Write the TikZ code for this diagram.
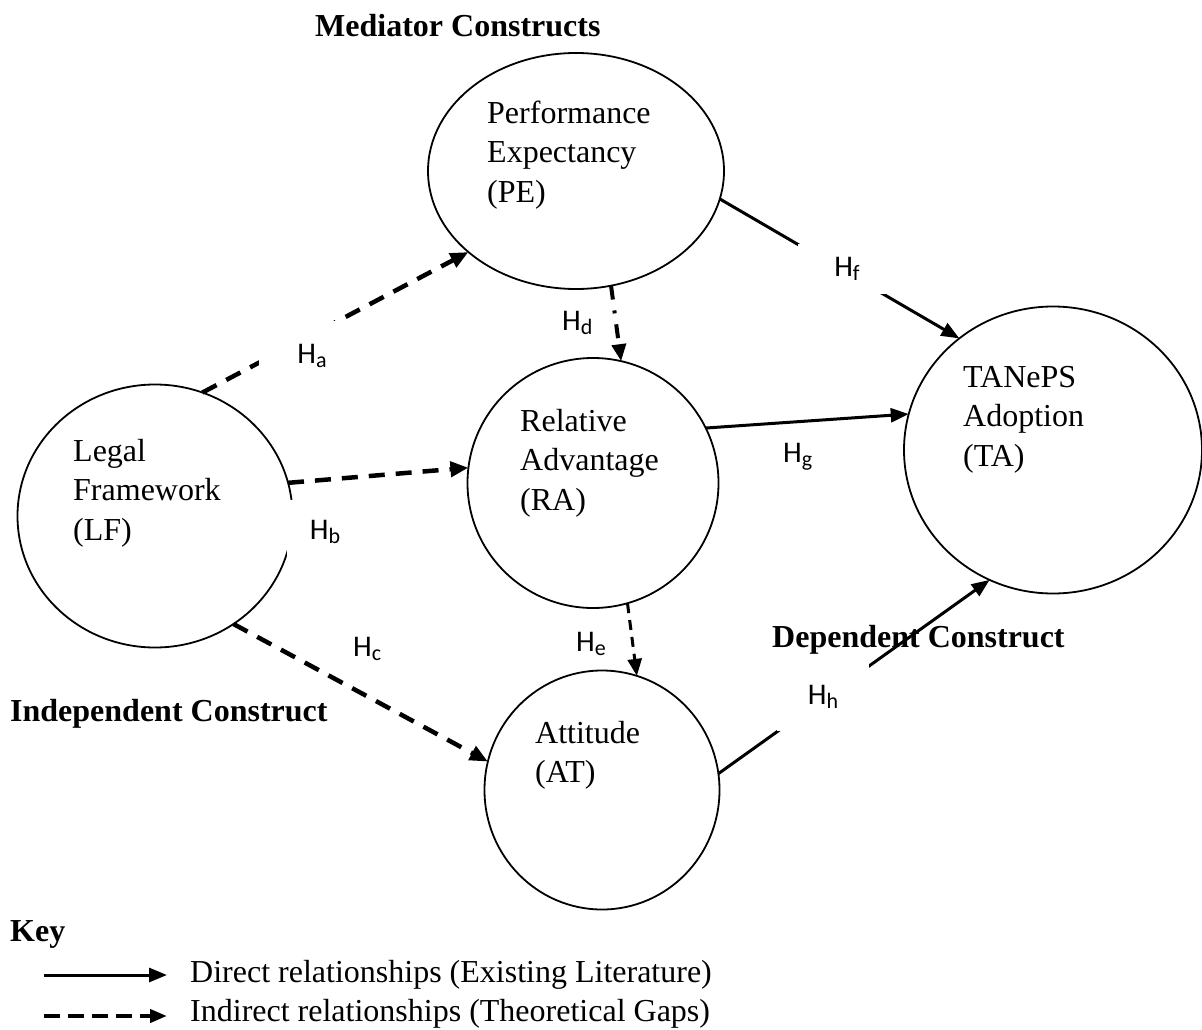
\documentclass[tikz,border=0pt]{standalone}
\usepackage{fontspec}
\setmainfont{Liberation Serif}
\newfontfamily\hfont{Carlito}
\usetikzlibrary{shapes.geometric,arrows.meta}
\newcommand{\hlab}[1]{H\raisebox{-4pt}{\fontsize{22}{22}\selectfont #1}}
\tikzset{
  construct/.style={ellipse, draw, line width=1.8pt, inner sep=0pt, outer sep=0pt},
  ctext/.style={anchor=north west, inner sep=0pt, align=left, font=\fontsize{32}{39.5}\selectfont},
  heading/.style={anchor=base west, inner sep=0pt, font=\bfseries\fontsize{32}{39.5}\selectfont},
  keytext/.style={anchor=base west, inner sep=0pt, font=\fontsize{32}{39.5}\selectfont},
  hlbl/.style={inner sep=0pt, font=\hfont\fontsize{30}{36}\selectfont},
  hbox/.style={hlbl, fill=white},
  direct/.style={line width=3pt, -{Triangle[length=18pt,width=14pt]}},
  indirect/.style={line width=4.5pt, dash pattern=on 16pt off 11pt, -{Triangle[length=18pt,width=15pt]}},
}
\begin{document}
\begin{tikzpicture}[x=1pt,y=-1pt]
\useasboundingbox (0,0) rectangle (1202,1030);

% constructs
\node[construct, minimum width=296pt, minimum height=236pt] (PE) at (576,171) {};
\node[construct, minimum width=275pt, minimum height=263pt] (LF) at (155,516) {};
\node[construct, minimum width=251pt, minimum height=250pt] (RA) at (593,483) {};
\node[construct, minimum width=235pt, minimum height=239pt] (AT) at (602,790) {};
\node[construct, minimum width=298pt, minimum height=287pt] (TA) at (1053,450) {};

% construct texts
\node[ctext] (PEt) at (487,95.35) {\strut Performance\\Expectancy\\(PE)};
\node[ctext] (LFt) at (73,433.35) {\strut Legal\\Framework\\(LF)};
\node[ctext] (RAt) at (520,403.35) {\strut Relative\\Advantage\\(RA)};
\node[ctext] (ATt) at (535,715.35) {\strut Attitude\\(AT)};
\node[ctext] (TAt) at (963,359.35) {\strut TANePS\\Adoption\\(TA)};

% headings
\node[heading] (med) at (315,37) {Mediator Constructs};
\node[heading] (ind) at (10,721) {Independent Construct};
\node[heading] (dep) at (772,647) {Dependent Construct};
\node[heading] (key) at (10,941) {Key};

% connectors
\draw[indirect] (LF.69.8) -- (PE.217.2);
\draw[indirect] (LF.14.5) -- (RA.173.7);
\draw[indirect] (LF.-54.6) -- (AT.166.8);
\draw[line width=4pt, dash pattern=on 14pt off 11pt on 3pt off 11pt, -{Triangle[length=17pt,width=14pt]}] (PE.-73) -- (RA.77.7);
\draw[line width=3pt, dash pattern=on 10pt off 7pt, -{Triangle[length=17pt,width=14pt]}] (RA.-74.7) -- (AT.73.5);
\draw[direct] (PE.-11.2) -- (TA.130.2);
\draw[direct] (RA.26.6) -- (TA.166);
\draw[direct] (AT.8.7) -- (TA.244.2);

% hypothesis labels
\node[hbox, minimum width=106pt, minimum height=70pt] (Ha) at (312,356) {\hlab{a}};
\node[hbox, minimum width=76pt, minimum height=64pt] (Hb) at (325,532) {\hlab{b}};
\node[hlbl, anchor=base west] (Hc) at (353,656) {\hlab{c}};
\node[hlbl, anchor=base west] (Hd) at (562,330) {\hlab{d}};
\node[hlbl, anchor=base west] (He) at (576,651) {\hlab{e}};
\node[hbox, minimum width=98pt, minimum height=50pt] (Hf) at (847,269) {\hlab{f}};
\node[hlbl, anchor=base west] (Hg) at (783,462) {\hlab{g}};
\node[hbox, minimum width=92pt, minimum height=68pt] (Hh) at (823,697) {\hlab{h}};

% key
\coordinate (k1s) at (44,975);
\coordinate (k1e) at (167,975);
\coordinate (k2s) at (44,1016);
\coordinate (k2e) at (167,1016);
\draw[direct] (k1s) -- (k1e);
\draw[line width=4pt, dash pattern=on 16pt off 8pt, -{Triangle[length=17pt,width=13pt]}] (k2s) -- (k2e);
\node[keytext] (kt1) at (190,982) {Direct relationships (Existing Literature)};
\node[keytext] (kt2) at (190,1021) {Indirect relationships (Theoretical Gaps)};
\end{tikzpicture}
\end{document}
